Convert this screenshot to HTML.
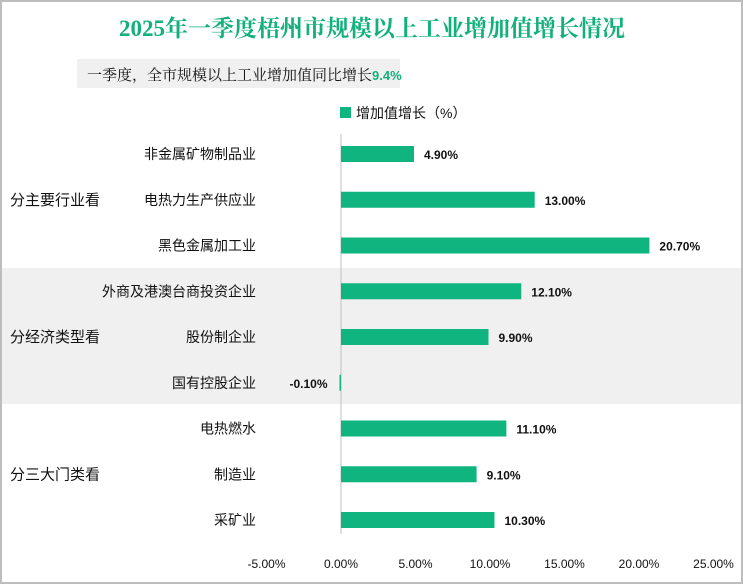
<!DOCTYPE html>
<html><head><meta charset="utf-8"><style>
body{margin:0;width:743px;height:584px;overflow:hidden;background:#fff;font-family:"Liberation Sans","Noto Sans CJK SC",sans-serif;}
#wrap{position:absolute;left:0;top:0;width:739px;height:580px;border:2px solid #bdbdbd;background:#fff;}
</style></head><body>
<div id="wrap"></div>
<svg id="chart" width="743" height="584" style="position:absolute;left:0;top:0">
<text x="372" y="36" text-anchor="middle" font-size="23" font-weight="bold" fill="#12b07a" font-family="Liberation Serif,Noto Serif CJK SC,serif">2025年一季度梧州市规模以上工业增加值增长情况</text>
<rect x="77" y="59" width="323" height="29" fill="#f0f0f0"/>
<text x="87" y="80" font-size="15" fill="#111" font-family="Liberation Serif,Noto Serif CJK SC,serif">一季度，全市规模以上工业增加值同比增长<tspan fill="#12b07a" font-weight="bold" font-size="13" font-family="Liberation Sans,sans-serif">9.4%</tspan></text>
<rect x="340" y="107" width="11" height="11" fill="#10b47f"/>
<text x="356" y="118" font-size="14" fill="#111">增加值增长（%）</text>
<g id="g"></g>
</svg>
<script>
const categories=["非金属矿物制品业","电热力生产供应业","黑色金属加工业","外商及港澳台商投资企业","股份制企业","国有控股企业","电热燃水","制造业","采矿业"];
const values=[4.9,13.0,20.7,12.1,9.9,-0.1,11.1,9.1,10.3];
const valueLabels=["4.90%","13.00%","20.70%","12.10%","9.90%","-0.10%","11.10%","9.10%","10.30%"];
const groups=["分主要行业看","分经济类型看","分三大门类看"];
const ticks=[-5,0,5,10,15,20,25];
const tickLabels=["-5.00%","0.00%","5.00%","10.00%","15.00%","20.00%","25.00%"];
const NS="http://www.w3.org/2000/svg";
const g=document.getElementById('g');
const x=v=>341+v*14.9;
const y=i=>154+i*45.75;
function mk(t,a,txt){const e=document.createElementNS(NS,t);for(const k in a)e.setAttribute(k,a[k]);if(txt!=null)e.textContent=txt;g.appendChild(e);return e;}
const band=mk('rect',{x:2,y:268,width:739,height:136,fill:'#f0f0f0'});


const ax=mk('line',{x1:x(0),x2:x(0),y1:134,y2:534,stroke:'#bfbfbf','stroke-width':1});


categories.forEach((c,i)=>{
  const cy=y(i),v=values[i];
  const lb=mk('text',{x:256,y:cy+5,'text-anchor':'end','font-size':14,fill:'#111'},c);
  
  
  const x0=Math.min(x(0),x(v)),w=Math.max(Math.abs(x(v)-x(0)),1.5);
  const b=mk('rect',{x:x0,y:cy-8,width:w,height:16,fill:'#10b47f'});
  
  
  const t=v>=0?mk('text',{x:x(v)+10,y:cy+5,'font-size':12,'font-weight':'bold',fill:'#111'},valueLabels[i]):mk('text',{x:x(v)-12,y:cy+5,'text-anchor':'end','font-size':12,'font-weight':'bold',fill:'#111'},valueLabels[i]);
  
  
});
groups.forEach((gname,k)=>{
  const t=mk('text',{x:10,y:y(k*3+1)+5,'font-size':15,fill:'#111'},gname);
  
  
});
ticks.forEach((tv,i)=>{
  const t=mk('text',{x:x(tv),y:568,'text-anchor':'middle','font-size':12,fill:'#111'},tickLabels[i]);
  
  
});
</script>
</body></html>
